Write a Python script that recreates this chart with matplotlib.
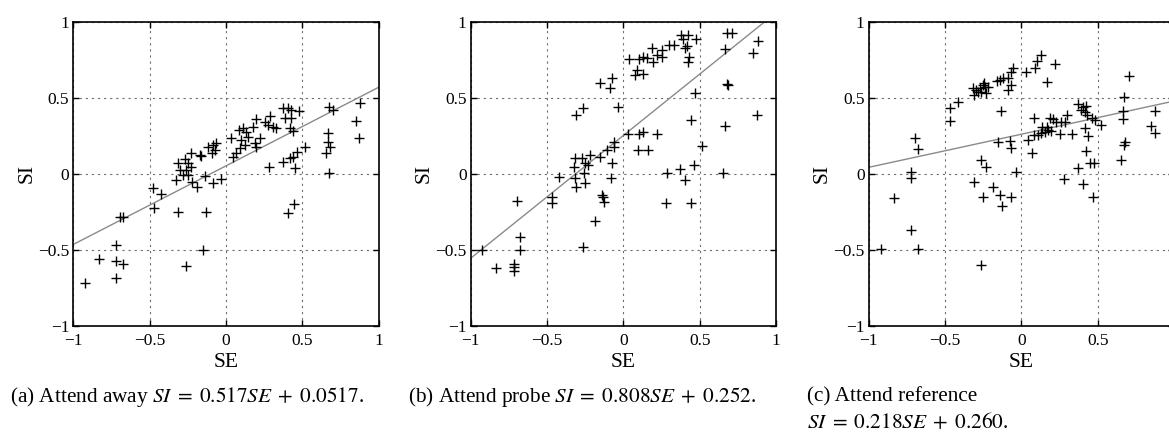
"""Scatter SE vs SI per tre condizioni di attenzione"""

import matplotlib
matplotlib.use("Agg")
from matplotlib import pyplot as plt

plt.rcParams["font.family"] = ["Liberation Serif", "DejaVu Serif"]
plt.rcParams["mathtext.fontset"] = "stix"
plt.rcParams["axes.unicode_minus"] = True

# Dati

away_se = [-0.925, -0.832, -0.722, -0.722, -0.673, -0.722, -0.696, -0.673, -0.478, -0.471,
           -0.424, -0.314, -0.129, -0.26, -0.151, -0.27, -0.314, -0.249, -0.303, -0.26,
           -0.227, -0.282, -0.249, -0.325, -0.227, -0.22, -0.19, -0.135, -0.085, -0.035,
           -0.162, -0.17, -0.118, -0.085, -0.063, -0.074, -0.09, 0.035, 0.085, 0.1,
           0.111, 0.133, 0.144, 0.122, 0.09, 0.068, 0.046, 0.188, 0.198, 0.22,
           0.177, 0.198, 0.253, 0.29, 0.308, 0.33, 0.275, 0.373, 0.406, 0.384,
           0.428, 0.428, 0.478, 0.417, 0.439, 0.52, 0.465, 0.439, 0.421, 0.373,
           0.45, 0.282, 0.674, 0.701, 0.668, 0.668, 0.683, 0.653, 0.674, 0.88,
           0.85, 0.871, 0.445, 0.406]
away_si = [-0.72, -0.563, -0.469, -0.572, -0.594, -0.688, -0.283, -0.283, -0.092, -0.228,
           -0.136, -0.254, -0.254, -0.607, -0.502, 0.10, 0.068, 0.068, 0.024, 0.024,
           0.046, -0.009, -0.009, -0.041, 0.134, -0.057, -0.085, -0.015, -0.063, -0.035,
           0.118, 0.123, 0.178, 0.189, 0.2, 0.156, 0.134, 0.233, 0.288, 0.222,
           0.299, 0.276, 0.244, 0.189, 0.167, 0.134, 0.112, 0.2, 0.178, 0.233,
           0.309, 0.36, 0.342, 0.382, 0.309, 0.299, 0.32, 0.434, 0.43, 0.364,
           0.364, 0.419, 0.413, 0.299, 0.281, 0.178, 0.141, 0.112, 0.101, 0.079,
           0.04, 0.046, 0.441, 0.419, 0.266, 0.211, 0.178, 0.134, 0.002, 0.463,
           0.347, 0.233, -0.2, -0.261]

probe_se = [0.376, 0.426, 0.393, 0.476, 0.415, 0.404, 0.432, 0.426, 0.301, 0.332,
            0.186, 0.251, 0.219, 0.251, 0.039, 0.105, 0.131, 0.153, 0.193, 0.088,
            0.077, 0.131, -0.076, -0.153, -0.087, -0.033, -0.262, -0.31, 0.677, 0.71,
            0.666, 0.884, 0.851, 0.677, 0.688, 0.47, 0.443, 0.666, 0.874, 0.033,
            0.105, 0.131, 0.223, -0.061, -0.065, -0.109, -0.153, -0.218, -0.272, -0.316,
            -0.327, -0.251, -0.229, -0.257, -0.316, -0.251, -0.31, -0.072, -0.083, -0.419,
            -0.141, -0.131, -0.126, -0.185, -0.262, -0.469, -0.469, -0.698, -0.676, -0.676,
            -0.927, -0.834, -0.718, -0.718, -0.718, 0.094, 0.164, 0.517, 0.284, 0.371,
            0.463, 0.404, 0.28, 0.443, 0.655]
probe_si = [0.912, 0.912, 0.886, 0.886, 0.842, 0.825, 0.77, 0.733, 0.847, 0.847,
            0.825, 0.814, 0.781, 0.77, 0.755, 0.755, 0.77, 0.759, 0.737, 0.682,
            0.649, 0.654, 0.632, 0.595, 0.566, 0.441, 0.43, 0.386, 0.924, 0.924,
            0.82, 0.873, 0.792, 0.588, 0.584, 0.529, 0.353, 0.316, 0.386, 0.259,
            0.259, 0.276, 0.259, 0.211, 0.178, 0.156, 0.112, 0.123, 0.101, 0.101,
            0.046, 0.068, 0.057, 0.003, -0.03, -0.059, -0.086, 0.072, -0.03, -0.02,
            -0.14, -0.151, -0.184, -0.309, -0.48, -0.155, -0.19, -0.178, -0.419, -0.502,
            -0.502, -0.622, -0.594, -0.616, -0.638, 0.156, 0.156, 0.182, 0.003, 0.029,
            0.057, -0.041, -0.195, -0.195, 0.003]

ref_se = [0.131, 0.105, 0.092, 0.219, 0.033, 0.166, -0.054, -0.069, -0.087, -0.12,
          -0.141, -0.157, -0.065, -0.087, -0.135, -0.316, -0.295, -0.273, -0.251, -0.24,
          -0.218, -0.262, -0.229, -0.308, -0.282, -0.245, -0.469, -0.415, -0.469, -0.698,
          -0.676, -0.153, -0.076, -0.069, 0.044, 0.07, 0.083, 0.083, 0.109, 0.131,
          0.153, 0.175, 0.192, 0.138, 0.166, 0.186, 0.208, 0.229, 0.262, 0.301,
          0.288, 0.251, 0.332, 0.371, 0.404, 0.426, 0.393, 0.415, 0.432, 0.463,
          0.481, 0.52, 0.415, 0.437, 0.426, 0.703, 0.673, 0.666, 0.666, 0.878,
          0.851, 0.873, 0.681, 0.673, -0.262, -0.229, -0.033, -0.31, -0.185, -0.251,
          -0.141, -0.069, -0.124, -0.72, -0.72, -0.834, -0.72, -0.921, -0.676, -0.262,
          0.371, 0.28, 0.404, 0.448, 0.476, 0.47, 0.655]
ref_si = [0.781, 0.741, 0.693, 0.72, 0.667, 0.605, 0.693, 0.671, 0.628, 0.632,
          0.616, 0.61, 0.584, 0.551, 0.412, 0.562, 0.551, 0.562, 0.584, 0.572,
          0.572, 0.54, 0.529, 0.518, 0.536, 0.595, 0.434, 0.47, 0.347, 0.237,
          0.162, 0.211, 0.215, 0.171, 0.222, 0.134, 0.364, 0.255, 0.255, 0.266,
          0.272, 0.288, 0.281, 0.309, 0.309, 0.368, 0.36, 0.338, 0.338, 0.386,
          0.338, 0.259, 0.259, 0.457, 0.441, 0.447, 0.419, 0.408, 0.386, 0.368,
          0.353, 0.32, 0.303, 0.25, 0.149, 0.645, 0.507, 0.412, 0.36, 0.412,
          0.316, 0.266, 0.211, 0.189, 0.09, 0.046, 0.009, -0.053, -0.086, -0.151,
          -0.14, -0.151, -0.21, 0.009, -0.026, -0.162, -0.37, -0.495, -0.495, -0.6,
          0.04, -0.035, -0.07, 0.068, 0.068, -0.151, 0.09]

# Retta di regressione: pendenza e intercetta
pendenze = [0.517, 0.808, 0.218]
intercette = [0.0517, 0.252, 0.260]

# Didascalie, una lista di righe per pannello
didascalie = [[r"(a) Attend away $SI\;=\;0.517SE\;+\;0.0517$."],
              [r"(b) Attend probe $SI\;=\;0.808SE\;+\;0.252$."],
              ["(c) Attend reference", r"$SI\;=\;0.218SE\;+\;0.260$."]]

tick_valori = [-1, -0.5, 0, 0.5, 1]
tick_etichette = ["\u22121", "\u22120.5", "0", "0.5", "1"]


def disegna_pannello(ax, se, si, pendenza, intercetta):
    """Disegna un pannello in stile MATLAB"""
    ax.set_xlim(-1, 1)
    ax.set_ylim(-1, 1)
    ax.plot([-1, 1], [intercetta - pendenza, intercetta + pendenza],
            color="#8a8a8a", lw=1.0, zorder=2)
    ax.plot(se, si, linestyle="none", marker="+", color="black",
            markersize=6.5, markeredgewidth=1.0, zorder=3)
    ax.set_xticks(tick_valori)
    ax.set_yticks(tick_valori)
    ax.set_xticklabels(tick_etichette, fontsize=12.5)
    ax.set_yticklabels(tick_etichette, fontsize=12.5)
    ax.tick_params(direction="in", top=True, right=True, length=4, width=1)
    ax.tick_params(axis="x", pad=5)
    ax.tick_params(axis="y", pad=3)
    ax.grid(True, color="#6e6e6e", linestyle=(0, (2, 3.5)), linewidth=0.8)
    for spine in ax.spines.values():
        spine.set_linewidth(1.2)
    ax.set_xlabel("SE", fontsize=15.5, labelpad=3)
    ax.set_ylabel("SI", fontsize=15.5, labelpad=1)


fig = plt.figure(figsize=(11.69, 4.33), dpi=100)

sinistre = [0.0627, 0.4027, 0.7431]
dati = [(away_se, away_si), (probe_se, probe_si), (ref_se, ref_si)]
for i, (se, si) in enumerate(dati):
    ax = fig.add_axes([sinistre[i], 0.2478, 0.2612, 0.702])
    disegna_pannello(ax, se, si, pendenze[i], intercette[i])

pos_testo = [0.0086, 0.349, 0.690]
righe_y = [0.083, 0.023]
for i, righe in enumerate(didascalie):
    for j, riga in enumerate(righe):
        fig.text(pos_testo[i], righe_y[j], riga, fontsize=15.3, va="center", ha="left")

fig.savefig("out.png", dpi=100)
